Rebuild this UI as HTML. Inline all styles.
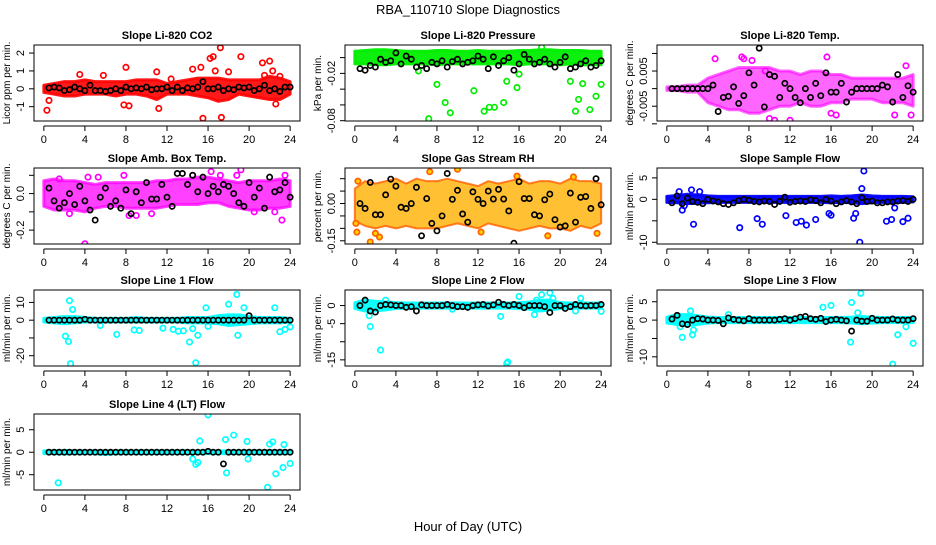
<!DOCTYPE html>
<html><head><meta charset="utf-8">
<style>
html,body{margin:0;padding:0;background:#fff;}
svg text{font-family:"Liberation Sans",Arial,sans-serif;}
</style></head>
<body>
<svg id="chart" width="936" height="540" viewBox="0 0 936 540" xmlns="http://www.w3.org/2000/svg">
<text x="468" y="14" text-anchor="middle" font-size="13">RBA_110710  Slope Diagnostics</text>
<text x="468" y="531" text-anchor="middle" font-size="13">Hour of Day (UTC)</text>
</svg>
<script>
// ---- data ----
const hourTicks = [0,4,8,12,16,20,24];
const bandHours = [0,1,2,3,4,5,6,7,8,9,10,11,12,13,14,15,16,17,18,19,20,21,22,23,24];

const co2Hi = [0.2,0.3,0.4,0.4,0.5,0.4,0.4,0.4,0.4,0.5,0.5,0.5,0.3,0.4,0.5,0.6,0.6,0.6,0.5,0.5,0.5,0.5,0.7,0.6,0.4];
const co2Lo = [-0.2,-0.3,-0.4,-0.4,-0.3,-0.3,-0.3,-0.4,-0.3,-0.3,-0.4,-0.6,-0.3,-0.3,-0.3,-0.4,-0.5,-0.7,-0.6,-0.3,-0.4,-0.5,-0.6,-0.6,-0.3];
const co2OutX = [0.3,0.5,3.5,5.8,7.8,8,8.3,11,11.2,12.4,14.5,15.3,15.5,16.2,16.5,16.7,17.2,17.3,18,19.2,21.3,21.5,22,22.3,22.6,23];
const co2OutY = [-1.2,-0.65,0.8,0.75,-0.9,1.2,-0.95,0.95,-1.1,0.55,1.1,1.2,-1.65,1.7,1.8,1,2.3,-1.6,0.95,1.8,1.45,0.75,1.55,1,-0.85,0.7];
const co2Black = [0.05,0.1,0.05,-0.1,-0.05,0.1,0,-0.1,0.2,-0.1,-0.1,-0.15,-0.1,0,-0.1,0.1,0,0.05,0,0.1,-0.05,0,0,0.1,-0.1,0.1,-0.1,0.05,0,0.1,0.4,0,0,0.1,-0.1,0,-0.05,0.1,0.05,0.1,-0.1,0,0.2,-0.1,0,-0.15,0.1,0.1];

const presHi = [0.008,0.009,0.01,0.01,0.009,0.008,0.008,0.008,0.009,0.009,0.008,0.008,0.009,0.008,0.008,0.008,0.009,0.009,0.01,0.01,0.009,0.009,0.009,0.008,0.008];
const presLo = [-0.008,-0.008,-0.009,-0.009,-0.008,-0.008,-0.008,-0.008,-0.009,-0.008,-0.008,-0.008,-0.008,-0.008,-0.008,-0.008,-0.009,-0.008,-0.008,-0.008,-0.009,-0.008,-0.009,-0.009,-0.009];
const presOutX = [6.2,7.2,8,8.8,9.3,11.6,12.6,13.1,13.6,14.5,14.8,15.8,16,18.2,21,21.5,21.8,22.2,22.9,23.5,24];
const presOutY = [-0.017,-0.0775,-0.034,-0.057,-0.07,-0.042,-0.068,-0.063,-0.063,-0.057,-0.03,-0.038,-0.021,0.013,-0.03,-0.068,-0.053,-0.033,-0.066,-0.049,-0.034];
const presBlack = [-0.014,-0.016,-0.01,-0.012,-0.002,-0.006,-0.004,0.006,-0.008,0.002,-0.002,-0.012,-0.01,-0.014,-0.006,-0.008,-0.004,-0.012,-0.005,-0.002,-0.008,-0.006,-0.004,0.002,-0.002,-0.014,0.001,-0.01,-0.004,0,-0.016,-0.008,0.004,-0.002,-0.008,-0.006,-0.002,-0.008,-0.012,-0.006,0.001,-0.014,-0.012,-0.008,-0.004,-0.012,-0.01,-0.004];

const tempHi = [0.0005,0.0005,0.001,0.001,0.003,0.004,0.005,0.006,0.006,0.006,0.006,0.005,0.005,0.004,0.005,0.005,0.004,0.004,0.003,0.003,0.003,0.003,0.003,0.003,0.004];
const tempLo = [-0.0005,-0.0005,-0.001,-0.001,-0.004,-0.005,-0.006,-0.006,-0.007,-0.007,-0.006,-0.005,-0.005,-0.004,-0.005,-0.005,-0.004,-0.004,-0.003,-0.003,-0.003,-0.004,-0.004,-0.004,-0.005];
const tempOutX = [4.7,7.3,7.5,8.3,9.6,10,10.5,12,15.6,16,16.5,22.2,23.3,23.8];
const tempOutY = [0.0085,0.009,0.0085,0.008,0.005,-0.0085,-0.009,-0.009,0.009,-0.007,-0.0075,-0.0075,0.0065,-0.0075];
const tempBlack = [0,0,0,0,0,0,0,0,0.001,-0.0065,-0.0025,-0.0022,0.0005,-0.0042,-0.002,0.0045,0.001,0.0115,-0.0052,0.004,0.0035,-0.0025,0.0015,0,-0.0025,-0.004,0,-0.0025,0.0015,-0.002,0.0045,-0.001,-0.001,0.0015,-0.0038,-0.001,0,0,0,0,0,0.001,0.0005,-0.0038,0.004,-0.0025,0.0008,-0.001];

const ambHi = [0.07,0.08,0.07,0.07,0.06,0.05,0.06,0.06,0.06,0.06,0.06,0.07,0.07,0.08,0.08,0.09,0.09,0.08,0.07,0.06,0.07,0.07,0.07,0.08,0.07];
const ambLo = [-0.07,-0.09,-0.09,-0.09,-0.1,-0.08,-0.07,-0.07,-0.08,-0.08,-0.08,-0.08,-0.07,-0.06,-0.06,-0.06,-0.05,-0.05,-0.07,-0.08,-0.09,-0.09,-0.08,-0.08,-0.07];
const ambOutX = [1.5,2.5,4,4.3,5.3,7.8,8.3,9,10.5,14.5,16.3,17.2,18.8,19.2,20.5,22.5,23.2,23.5];
const ambOutY = [0.08,-0.11,-0.275,0.09,0.09,0.1,-0.12,-0.12,-0.11,0.1,0.12,0.1,0.1,0.13,-0.1,-0.1,-0.145,0.1];
const ambBlack = [0.03,-0.04,-0.08,-0.05,0,-0.06,0.04,-0.04,-0.09,-0.145,-0.02,0.03,-0.07,-0.04,-0.08,0.02,-0.11,0.01,-0.05,0.06,-0.03,-0.03,0.05,-0.02,-0.07,0.11,0.11,0.05,0.1,0.01,0.09,0,0.04,0.01,0.05,0.04,0,-0.05,-0.07,0.06,-0.02,0.03,-0.08,0.09,0.01,0.02,0.06,-0.02];

const rhHi = [0.06,0.09,0.08,0.09,0.1,0.08,0.1,0.09,0.09,0.1,0.09,0.08,0.07,0.09,0.08,0.09,0.1,0.08,0.09,0.09,0.08,0.1,0.09,0.09,0.08];
const rhLo = [-0.07,-0.09,-0.1,-0.09,-0.1,-0.09,-0.1,-0.1,-0.1,-0.09,-0.08,-0.09,-0.1,-0.08,-0.09,-0.1,-0.11,-0.1,-0.09,-0.1,-0.1,-0.11,-0.09,-0.1,-0.08];
const rhOutX = [0.1,0.2,0.3,1.5,2,2.4,7.3,10,12.3,15.8,18.8,21.3,23.6];
const rhOutY = [-0.08,-0.115,0.09,-0.155,-0.12,-0.135,0.128,0.138,-0.115,0.11,-0.13,0.107,-0.12];
const rhBlack = [0,-0.02,0.085,-0.045,-0.045,0.035,0.098,0.07,-0.015,-0.02,0,0.065,-0.13,0.02,-0.08,-0.11,-0.05,0.121,0.017,0.053,-0.042,-0.075,0.047,0.017,0,0.05,0.018,0.057,0.018,-0.03,-0.16,0.088,0.02,0.02,-0.045,-0.05,0.015,0.038,-0.065,-0.095,-0.09,0.042,-0.075,0.025,0.028,-0.02,0.1,-0.005];

const flowHi = [0.7,0.9,1.2,1,0.8,0.7,0.7,0.7,0.7,0.7,0.7,0.7,0.7,0.7,0.7,0.7,0.8,0.7,0.8,1,0.8,0.7,0.7,0.7,0.6];
const flowLo = [-0.7,-0.8,-1,-0.9,-0.8,-0.7,-0.7,-0.7,-0.7,-0.7,-0.7,-0.7,-0.7,-0.7,-0.7,-0.7,-0.8,-0.7,-0.8,-1,-0.8,-0.7,-0.7,-0.7,-0.6];
const flowOutX = [1.2,1.5,1.7,2.4,2.6,3.2,7.1,8.8,9.3,11.6,12.6,13.1,13.6,14.5,15.8,16,18.2,18.4,18.8,19,19.2,21.4,21.9,22.2,23,23.5];
const flowOutY = [1.8,-2.5,-1.5,2.2,-5.8,1.8,-6.6,-4.5,-5.8,-3.8,-5.4,-5.1,-6,-4.7,-3.3,-3.7,-4.4,-3.3,-10,2.5,6.6,-5.1,-4.7,-2,-5.2,-4.4];
const flowBlack = [-0.8,0.8,-1,0.3,-0.5,-0.7,-1,0,-0.4,-0.6,-1,-1.2,-0.8,-0.3,0,-0.2,-0.5,-0.6,-0.4,-0.5,-1.2,-0.5,0.5,-0.7,-0.5,-0.4,-0.5,-0.1,-0.3,-0.8,0,-0.4,-1,-0.6,-0.3,-0.6,-1,0.4,-0.5,-0.4,-0.8,-0.8,-0.6,-0.6,-0.4,-0.3,-0.5,0];

const l1Hi = [1,1.5,2,2,1.5,1,1,1,1,1.5,1,1,1,1,1.5,1.5,1.5,2.5,3,3,2,1.5,1.5,1.5,1];
const l1Lo = [-1,-1.5,-2,-1.5,-1,-1,-1,-1,-1,-1,-1,-1,-1,-1,-1.5,-1.5,-1.5,-2,-3,-2.5,-2,-1.5,-1.5,-1.5,-1];
const l1OutX = [2.1,2.4,2.5,2.6,2.8,5.5,7.1,8.8,9.3,11.6,12.6,13.1,13.6,14.2,14.5,14.8,15,15.8,16,18,18.8,18.9,19.5,22.5,23,23.5,24];
const l1OutY = [-9,-12,11,-24.5,6,-3,-8,-5.5,-5.8,-4.5,-5.2,-6.2,-6,-12.3,-4.8,-24,-8.5,7,-3.5,9,14.5,-8.5,7,7,-6.5,-5.2,-3.8];
const l1Black = [0,0,0,0,0,0,0,0.5,0,0,0,0,0,0,0,0,0,0,0,0,0,0,0,0,0,0,0,0,0,0,0,0,0,0,0,0,0,0,0,2.5,0,0,0,0,0,0,0,0];

const l2Hi = [0.8,1.5,1.2,1,0.8,0.7,0.7,0.7,0.7,0.7,0.7,0.7,0.7,0.7,0.7,0.7,0.8,1,1.5,1.5,0.8,0.7,0.7,0.7,0.7];
const l2Lo = [-0.8,-1.5,-1.5,-1.2,-0.8,-0.7,-0.7,-0.7,-0.7,-0.7,-0.7,-0.7,-0.7,-0.7,-0.7,-0.7,-0.8,-1,-1.5,-1.2,-0.8,-0.7,-0.7,-0.7,-0.7];
const l2OutX = [1.4,1.5,2.5,3,9.5,14.2,14.8,14.9,16,17.5,17.7,18.2,19,19.3,21.5,22,24];
const l2OutY = [-2.8,-5.8,-12.3,1.5,-1,-3,-16,-15.6,2.5,-2.5,1.5,3,3.5,2,-1.5,2,-1.6];
const l2Black = [0,1.5,-1.5,-1.8,0,0.3,0.2,0,0,-0.5,-0.3,-1.5,0.2,0,0,0,0,0.3,0,-0.3,-0.3,-0.5,0,0.2,0.3,-0.1,0.2,0.9,0.3,0,0.3,0,-0.6,0,0,0,-0.3,-1.9,0,0,-0.8,-0.3,0.3,0,-0.1,0,0,0.3];

const l3Hi = [0.8,1.5,1.5,1.2,0.8,0.7,0.7,0.7,0.7,0.7,0.7,0.7,0.7,0.7,0.7,0.7,0.7,0.7,0.8,1,0.8,0.7,0.7,0.7,0.7];
const l3Lo = [-0.8,-1.2,-1.5,-1.2,-0.8,-0.7,-0.7,-0.7,-0.7,-0.7,-0.7,-0.7,-0.7,-0.7,-0.7,-0.7,-0.7,-0.7,-0.8,-1,-0.8,-0.7,-0.7,-0.7,-0.7];
const l3OutX = [1.3,1.5,2.3,2.5,2.6,6,15.2,16,17.9,18,18.6,18.9,22,22.5,23.3,24];
const l3OutY = [-1.8,-4.7,2.5,-4,-2.7,1.5,3.5,4,-6,4.8,2,7.3,-12,-4,-1.8,-6.3];
const l3Black = [0.3,1.3,-1,-1.2,0,0.4,0.3,0,0,-0.1,-1,0.6,0.2,0,-0.2,0.4,0,0,0,0,0,0.2,0.4,0,0.4,0.8,1,0.4,0.2,0.5,-0.4,0,0.2,0,-0.2,-3,0,-0.3,-0.3,0.5,0,0,0,0.3,0,0,0,0.4];

const l4Hi = [0.3,0.3,0.4,0.3,0.3,0.3,0.3,0.3,0.3,0.3,0.3,0.3,0.3,0.3,0.3,0.3,0.3,0.3,0.3,0.3,0.3,0.3,0.3,0.3,0.3];
const l4Lo = [-0.3,-0.3,-0.4,-0.3,-0.3,-0.3,-0.5,-0.3,-0.3,-0.3,-0.3,-0.3,-0.3,-0.3,-0.3,-0.3,-0.3,-0.3,-0.3,-0.3,-0.3,-0.3,-0.3,-0.3,-0.3];
const l4OutX = [1.4,14.5,14.8,15,15.2,16,17.7,17.8,18.5,19.8,19.9,21.8,22,22.3,22.6,23.3,23.4,24];
const l4OutY = [-6.8,-1.5,-2.7,-2.3,2.5,8.3,2.8,-4.6,3.8,2.4,-1.5,-7.8,1.8,2.3,-4.8,-3.4,1.7,-2.5];
const l4Black = [0,0,0,0,0,0,0,0,0,0,0,0,0,0,0,0,0,0,0,0,0,0,0,0,0,0,0,0,0,0,0,0.2,0,0,-2.6,0,0,0,0,0,0,0,0,0,0,0,0,0];

const panels = [
 {name:'co2',title:'Slope Li-820 CO2',ylab:'Licor ppm per min.',col:0,row:0,ymin:-1.8,ymax:2.45,ticks:[-1,0,1,2],labels:['-1','0','1','2'],color:'#ff0000',op:0.9,hi:co2Hi,lo:co2Lo,ox:co2OutX,oy:co2OutY,blk:co2Black},
 {name:'pressure',title:'Slope Li-820 Pressure',ylab:'kPa per min.',col:1,row:0,ymin:-0.0804,ymax:0.016,ticks:[-0.08,-0.06,-0.04,-0.02,0],labels:['-0.08','','','-0.02',''],color:'#00ee00',op:0.95,hi:presHi,lo:presLo,ox:presOutX,oy:presOutY,blk:presBlack},
 {name:'temp',title:'Slope Li-820 Temp.',ylab:'degrees C per min.',col:2,row:0,ymin:-0.0092,ymax:0.0124,ticks:[-0.01,-0.005,0,0.005,0.01],labels:['','-0.005','','0.005',''],color:'#ff00ff',op:0.6,hi:tempHi,lo:tempLo,ox:tempOutX,oy:tempOutY,blk:tempBlack},
 {name:'amb-box-temp',title:'Slope Amb. Box Temp.',ylab:'degrees C per min.',col:0,row:1,ymin:-0.276,ymax:0.14,ticks:[-0.2,-0.1,0,0.1],labels:['-0.2','','0.0',''],color:'#ff00ff',op:0.75,hi:ambHi,lo:ambLo,ox:ambOutX,oy:ambOutY,blk:ambBlack},
 {name:'gas-stream-rh',title:'Slope Gas Stream RH',ylab:'percent per min.',col:1,row:1,ymin:-0.163,ymax:0.143,ticks:[-0.15,-0.1,-0.05,0,0.05,0.1],labels:['-0.15','','','0.00','',''],color:'#ffb000',stroke:'#ff6000',sw:2,op:0.8,hi:rhHi,lo:rhLo,ox:rhOutX,oy:rhOutY,blk:rhBlack},
 {name:'sample-flow',title:'Slope Sample Flow',ylab:'ml/min per min.',col:2,row:1,ymin:-10.4,ymax:7.3,ticks:[-10,-5,0,5],labels:['-10','','0','5'],color:'#0000ff',op:0.95,hi:flowHi,lo:flowLo,ox:flowOutX,oy:flowOutY,blk:flowBlack},
 {name:'line1-flow',title:'Slope Line 1 Flow',ylab:'ml/min per min.',col:0,row:2,ymin:-25.8,ymax:17,ticks:[-20,-10,0,10],labels:['-20','','0','10'],color:'#00ffff',op:0.95,hi:l1Hi,lo:l1Lo,ox:l1OutX,oy:l1OutY,blk:l1Black},
 {name:'line2-flow',title:'Slope Line 2 Flow',ylab:'ml/min per min.',col:1,row:2,ymin:-16.7,ymax:4.3,ticks:[-15,-10,-5,0],labels:['-15','','-5','0'],color:'#00ffff',op:0.95,hi:l2Hi,lo:l2Lo,ox:l2OutX,oy:l2OutY,blk:l2Black},
 {name:'line3-flow',title:'Slope Line 3 Flow',ylab:'ml/min per min.',col:2,row:2,ymin:-12.5,ymax:8.2,ticks:[-10,-5,0,5],labels:['-10','','0','5'],color:'#00ffff',op:0.95,hi:l3Hi,lo:l3Lo,ox:l3OutX,oy:l3OutY,blk:l3Black},
 {name:'line4-flow',title:'Slope Line 4 (LT) Flow',ylab:'ml/min per min.',col:0,row:3,ymin:-8.4,ymax:8.5,ticks:[-5,0,5],labels:['-5','0','5'],color:'#00ffff',op:0.95,hi:l4Hi,lo:l4Lo,ox:l4OutX,oy:l4OutY,blk:l4Black}
];

// ---- layout ----
const NS='http://www.w3.org/2000/svg';
const svg=document.getElementById('chart');
const colLeft=[34,345,657], rowTop=[45,168,290,414], W=266, H=76;
const XMIN=-0.96, XMAX=24.96;
function mk(tag,attrs,parent){const e=document.createElementNS(NS,tag);for(const k in attrs)e.setAttribute(k,attrs[k]);(parent||svg).appendChild(e);return e;}

panels.forEach(p=>{
  const L=colLeft[p.col], T=rowTop[p.row];
  const xs=v=>L+(v-XMIN)/(XMAX-XMIN)*W;
  const ys=v=>T+H-(v-p.ymin)/(p.ymax-p.ymin)*H;
  const g=mk('g',{});
  
  
  const clipId='clip-'+p.name;
  const cp=mk('clipPath',{id:clipId},g);
  mk('rect',{x:L,y:T,width:W,height:H},cp);
  const t=mk('text',{x:L+W/2,y:T-6,'text-anchor':'middle','font-size':'11','font-weight':'bold'},g);
  t.textContent=p.title;
  
  
  const plot=mk('g',{'clip-path':'url(#'+clipId+')'},g);
  let pts=[];
  bandHours.forEach((h,i)=>pts.push(xs(h)+','+ys(p.hi[i])));
  for(let i=bandHours.length-1;i>=0;i--)pts.push(xs(bandHours[i])+','+ys(p.lo[i]));
  const band=mk('polygon',{points:pts.join(' '),fill:p.color,'fill-opacity':p.op,stroke:p.stroke||p.color,'stroke-width':p.sw||3,'stroke-linejoin':'round','stroke-opacity':p.op},plot);
  
  
  p.ox.forEach((x,i)=>{
    const c=mk('circle',{cx:xs(x),cy:ys(p.oy[i]),r:2.7,fill:p.stroke?'#ffd000':'none',stroke:p.stroke||p.color,'stroke-width':1.7},plot);
    
    
  });
  p.blk.forEach((v,i)=>{
    const c=mk('circle',{cx:xs(0.5*(i+1)),cy:ys(v),r:2.6,fill:'none',stroke:'#000','stroke-width':1.7},plot);
    
    
  });
  const box=mk('rect',{x:L,y:T,width:W,height:H,fill:'none',stroke:'#000','stroke-width':1},g);
  
  
  const ay=T+H+5;
  mk('line',{x1:xs(0),x2:xs(24),y1:ay,y2:ay,stroke:'#000'},g);
  hourTicks.forEach(h=>{
    mk('line',{x1:xs(h),x2:xs(h),y1:ay,y2:ay+5,stroke:'#000'},g);
    const tl=mk('text',{x:xs(h),y:ay+17,'text-anchor':'middle','font-size':'11'},g);
    tl.textContent=h;
    
    
  });
  p.ticks.forEach((v,i)=>{
    mk('line',{x1:L-5,x2:L,y1:ys(v),y2:ys(v),stroke:'#000'},g);
    if(p.labels[i]){
      const yl=mk('text',{x:L-10,y:ys(v),'text-anchor':'middle','font-size':'11',transform:'rotate(-90 '+(L-10)+' '+ys(v)+')'},g);
      yl.textContent=p.labels[i];
      
      
    }
  });
  const yt=mk('text',{x:L-24,y:T+H/2,'text-anchor':'middle','font-size':'10',transform:'rotate(-90 '+(L-24)+' '+(T+H/2)+')'},g);
  yt.textContent=p.ylab;
  
  
});
</script>
</body></html>
